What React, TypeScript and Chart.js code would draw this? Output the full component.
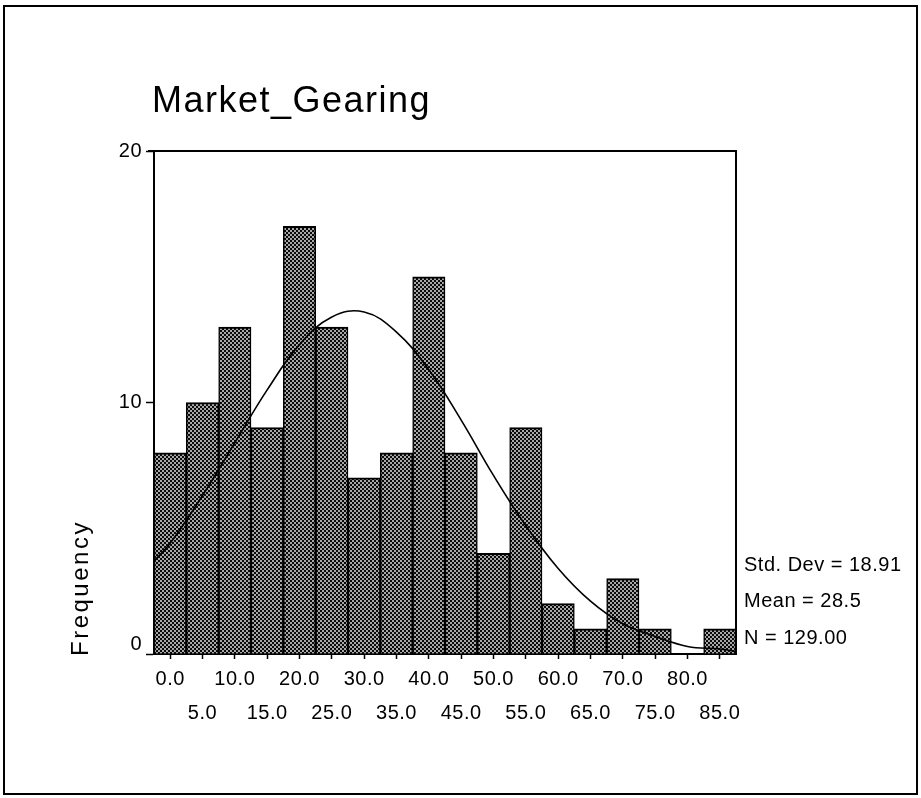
import React, { useEffect, useRef } from "react";
import { Chart, registerables } from "chart.js";

Chart.register(...registerables);

// Histogram bins (bin centres, width 5) and their counts
const binCenters = [0, 5, 10, 15, 20, 25, 30, 35, 40, 45, 50, 55, 60, 65, 70, 75, 80, 85];
const frequencies = [8, 10, 13, 9, 17, 13, 7, 8, 15, 8, 4, 9, 2, 1, 3, 1, 0, 1];
const xTickLabels = [
  "0.0", "5.0", "10.0", "15.0", "20.0", "25.0", "30.0", "35.0", "40.0",
  "45.0", "50.0", "55.0", "60.0", "65.0", "70.0", "75.0", "80.0", "85.0",
];
const yTickValues = [0, 10, 20];

// Fitted normal curve, read at the bin edges and centres
const curveX = [-2.5, 0, 5, 10, 15, 20, 25, 30, 35, 40, 45, 50, 55, 60, 65, 70, 75, 80, 85, 87.5];
const curveY = [3.7, 4.4, 6.3, 8.4, 10.5, 12.3, 13.4, 13.6, 12.8, 11.3, 9.3, 7.1, 5.1, 3.4, 2.1, 1.2, 0.7, 0.3, 0.2, 0.1];

const chartTitle = "Market_Gearing";
const yAxisTitle = "Frequency";
const statLines = ["Std. Dev = 18.91", "Mean = 28.5", "N = 129.00"];

const FONT = '"Liberation Sans", Arial, sans-serif';

function makeDotPattern(): CanvasPattern | string {
  const tile = document.createElement("canvas");
  tile.width = 4;
  tile.height = 4;
  const t = tile.getContext("2d");
  if (!t) return "#444";
  t.fillStyle = "#0a0a0a";
  t.fillRect(0, 0, 4, 4);
  t.fillStyle = "#a8a8a8";
  t.fillRect(0, 0, 2, 2);
  t.fillRect(2, 2, 2, 2);
  const p = t.createPattern(tile, "repeat");
  return p || "#444";
}

const decorations = {
  id: "decorations",
  beforeDraw(chart: any) {
    const ctx = chart.ctx;
    ctx.fillStyle = "#fff";
    ctx.fillRect(0, 0, chart.width, chart.height);
    ctx.letterSpacing = "0.5px";
  },
  afterDraw(chart: any) {
    const ctx = chart.ctx;
    const area = chart.chartArea;
    const yScale = chart.scales.y;
    ctx.save();
    ctx.strokeStyle = "#000";
    ctx.fillStyle = "#000";

    // outer frame
    ctx.lineWidth = 2;
    ctx.strokeRect(4, 6, 913, 788);

    // top and right edges of the plot box
    ctx.lineWidth = 2;
    ctx.beginPath();
    ctx.moveTo(area.left - 6, area.top);
    ctx.lineTo(area.right, area.top);
    ctx.lineTo(area.right, area.bottom);
    ctx.stroke();

    // title
    ctx.font = `36px ${FONT}`;
    ctx.letterSpacing = "1.5px";
    ctx.textAlign = "left";
    ctx.textBaseline = "alphabetic";
    ctx.fillText(chartTitle, 152, 112);

    // y tick labels
    ctx.font = `20px ${FONT}`;
    ctx.letterSpacing = "0.5px";
    ctx.textAlign = "right";
    ctx.textBaseline = "middle";
    yTickValues.forEach((v) => {
      let py = yScale.getPixelForValue(v);
      if (v === 0) py -= 10;
      ctx.fillText(String(v), area.left - 12, py);
    });

    // rotated axis title
    ctx.save();
    ctx.font = `24px ${FONT}`;
    ctx.letterSpacing = "2.5px";
    ctx.translate(88, 656);
    ctx.rotate(-Math.PI / 2);
    ctx.textAlign = "left";
    ctx.textBaseline = "alphabetic";
    ctx.fillText(yAxisTitle, 0, 0);
    ctx.restore();

    // summary statistics
    ctx.font = `20px ${FONT}`;
    ctx.letterSpacing = "0.5px";
    ctx.textAlign = "left";
    ctx.textBaseline = "middle";
    statLines.forEach((s, i) => {
      ctx.fillText(s, area.right + 8, 565 + i * 36.5);
    });

    ctx.restore();
  },
};

export default function App() {
  const canvasRef = useRef<HTMLCanvasElement | null>(null);

  useEffect(() => {
    const canvas = canvasRef.current;
    if (!canvas) return;
    const pattern = makeDotPattern();

    const chart = new Chart(canvas, {
      type: "bar",
      data: {
        datasets: [
          {
            type: "line",
            data: curveX.map((x, i) => ({ x, y: curveY[i] })),
            borderColor: "#000",
            borderWidth: 1.6,
            pointRadius: 0,
            fill: false,
            tension: 0.4,
            order: 0,
          } as any,
          {
            type: "bar",
            data: binCenters.map((x, i) => ({ x, y: frequencies[i] })),
            backgroundColor: pattern as any,
            borderColor: "#000",
            borderWidth: { top: 2, left: 1.5, right: 1.5, bottom: 0 },
            borderSkipped: false,
            categoryPercentage: 1,
            barPercentage: 1,
            order: 1,
          } as any,
        ],
      },
      options: {
        responsive: false,
        animation: false,
        devicePixelRatio: 1,
        events: [],
        layout: { padding: { left: 0, top: 151, right: 185, bottom: 0 } },
        plugins: {
          legend: { display: false },
          title: { display: false },
          tooltip: { enabled: false },
        },
        scales: {
          x: {
            type: "linear",
            min: -2.5,
            max: 87.5,
            offset: false,
            afterBuildTicks: (scale: any) => {
              scale.ticks = binCenters.map((v) => ({ value: v }));
            },
            afterFit: (scale: any) => {
              scale.height = 144;
            },
            border: { display: true, color: "#000", width: 2 },
            grid: {
              display: true,
              offset: false,
              drawOnChartArea: false,
              drawTicks: true,
              tickLength: 5,
              tickColor: "#000",
              tickWidth: 1.5,
            },
            ticks: {
              autoSkip: false,
              maxRotation: 0,
              minRotation: 0,
              padding: 3,
              color: "#000",
              font: { family: FONT, size: 20, lineHeight: 34 / 20 },
              callback: (value: any, index: number) =>
                index % 2 === 0 ? [xTickLabels[index], ""] : ["", xTickLabels[index]],
            },
          },
          y: {
            type: "linear",
            min: 0,
            max: 20,
            afterFit: (scale: any) => {
              scale.width = 154;
            },
            border: { display: true, color: "#000", width: 2 },
            grid: {
              display: true,
              drawOnChartArea: false,
              drawTicks: true,
              tickLength: 8,
              tickColor: "#000",
              tickWidth: 1.5,
            },
            ticks: { display: false, stepSize: 10 },
          },
        },
      } as any,
      plugins: [decorations],
    });

    return () => chart.destroy();
  }, []);

  return (
    <div style={{ position: "absolute", left: 0, top: 0, width: 921, height: 798, background: "#fff" }}>
      <canvas ref={canvasRef} width={921} height={798} style={{ display: "block" }} />
    </div>
  );
}
